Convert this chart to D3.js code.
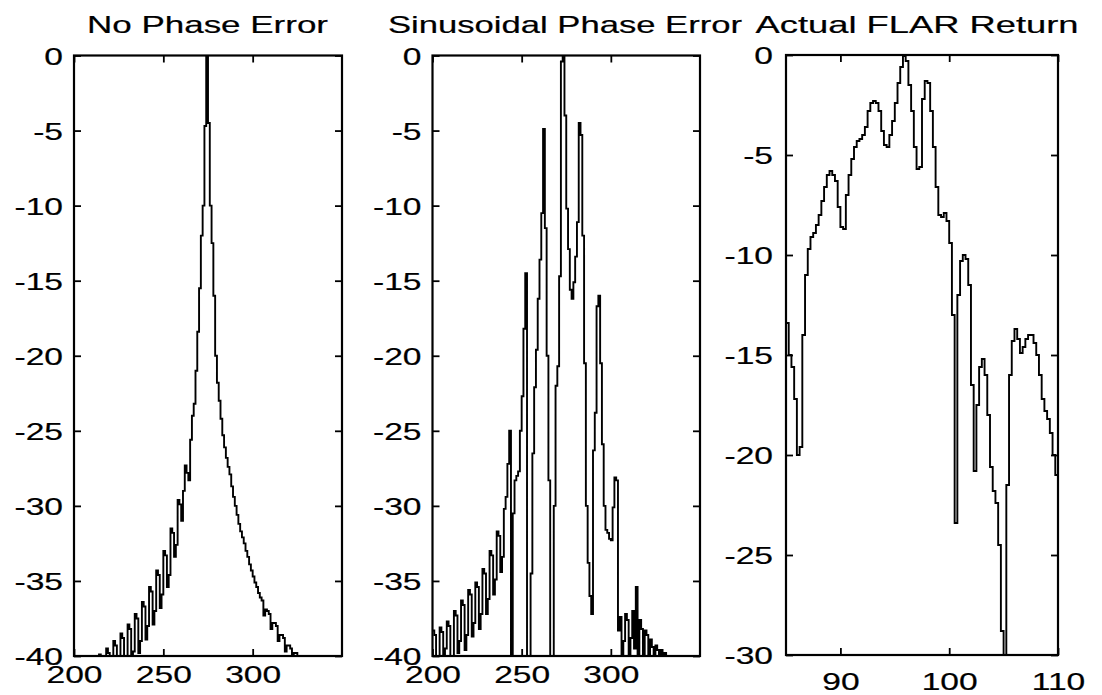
<!DOCTYPE html>
<html>
<head>
<meta charset="utf-8">
<script src="https://cdn.jsdelivr.net/npm/d3@7"></script>
<style>
  html, body { margin: 0; padding: 0; background: #fff; }
  svg { display: block; }
  text { font-family: "Liberation Sans", Arial, Helvetica, sans-serif; fill: #000; stroke: #000; stroke-width: 0.2px; }
</style>
</head>
<body>
<svg id="chart" width="1102" height="695"></svg>
<script>
"use strict";

// ---- data (dB) ----
var titles = ["No Phase Error", "Sinusoidal Phase Error", "Actual FLAR Return"];

// panel 1: one value per range bin, starting at bin 212
var noPhaseStart = 212;
var noPhaseDb = [
  -40, -40, -39.9, -40, -40, -40,
  -39.5, -39.8, -40, -40, -39.0, -39.3, -40, -40,
  -38.5, -38.8, -40, -40, -37.9, -38.2, -40, -39.7,
  -37.2, -37.5, -39.8, -39.0, -36.4, -36.7, -38.9, -38.0,
  -35.4, -35.7, -37.9, -37.0, -34.3, -34.6, -36.8, -35.9,
  -33.0, -33.3, -35.4, -34.6, -31.5, -31.8, -33.4, -32.6,
  -29.6, -29.9, -31.0, -29.0, -27.3, -27.8, -28.3, -25.6,
  -24.0, -23.2, -21.0, -18.4, -15.5, -12.0, -10.0, -4.7,
  0, -4.5, -10.0, -12.5, -16.0, -20.0, -21.8, -23.0,
  -24.2, -25.3, -26.1, -26.8, -27.4, -27.9, -28.7, -29.4,
  -30.0, -30.6, -31.2, -31.7, -32.1, -32.5, -33.0, -33.4,
  -33.9, -34.3, -34.7, -35.1, -35.4, -35.8,
  -36.1, -36.3, -37.3, -36.9, -37.0, -37.2, -38.2, -37.8,
  -37.8, -38.0, -39.0, -38.6, -38.6, -38.8, -39.7, -39.3,
  -39.3, -39.5, -40, -39.8, -39.8, -40, -40
];

// panel 2: one value per range bin, starting at bin 200
var sinPhaseStart = 200;
var sinPhaseDb = [
  -38.3, -38.6, -40, -40, -38.1, -38.4, -40, -39.5,
  -37.7, -38.0, -40, -40, -37.0, -37.3, -39.8, -39.0,
  -36.3, -36.6, -39.6, -38.6, -35.6, -35.9, -38.7, -37.8,
  -35.1, -35.4, -38.2, -37.2, -34.2, -34.5, -37.2, -36.2,
  -33.0, -33.3, -35.9, -34.9, -31.7, -32.0, -34.4, -33.4,
  -30.2, -29.4, -27.2, -25.0,
  -40, -30.5, -28.3, -28.0, -27.7, -25.0, -22.7, -18.2, -14.5, -40,
  -40, -34.5, -26.5, -22.1, -19.6, -16.2, -13.6, -10.5, -4.9, -11.5,
  -20.0, -28.3, -40, -40, -30.0, -22.0, -20.7, -14.7, -0.4, 0,
  -4.0, -10.2, -12.9, -15.6, -16.2, -15.1, -13.4, -11.1, -4.5, -5.3,
  -12.0, -20.5, -30.0, -33.8, -36.0, -37.2, -26.3, -23.8, -16.7, -16.0,
  -20.5, -25.9, -30.0, -31.6, -31.8, -32.2, -32.3, -30.1, -28.1, -28.3,
  -38.3, -37.4, -40, -39.0, -37.2, -37.6, -40, -38.8, -37.0, -39.5,
  -35.4, -40, -37.6, -38.2, -40, -38.3, -38.6, -40, -38.9, -39.4,
  -40, -39.3, -39.6, -40, -39.6, -40, -39.8, -40, -40, -40
];

// panel 3: samples every 0.25 from 85 to 110
var flarStart = 85;
var flarStep = 0.25;
var flarDb = [
  -13.4, -15.0, -15.6, -17.2, -20.0, -19.6, -14.0, -11.0, -9.7, -9.1,
  -8.9, -8.5, -8.0, -7.3, -6.6, -6.0, -5.8, -6.0, -6.3, -7.6,
  -8.6, -8.7, -7.0, -6.0, -5.2, -4.6, -4.3, -4.2, -4.0, -3.6,
  -2.8, -2.4, -2.3, -2.4, -2.8, -3.8, -4.5, -4.6, -4.0, -3.3,
  -2.4, -1.4, -0.6, -0.05, -0.3, -1.5, -2.8, -4.6, -5.7, -5.6,
  -2.2, -1.3, -1.4, -2.8, -4.6, -6.6, -8.0, -8.1, -7.9, -8.3,
  -9.4, -13.0, -23.4, -12.0, -10.3, -10.0, -10.2, -11.5, -16.5, -20.8,
  -17.5, -15.6, -15.2, -16.0, -18.0, -20.6, -21.8, -22.4, -24.5, -28.8,
  -30.0, -21.5, -16.0, -14.3, -13.7, -14.2, -14.9, -14.6, -14.2, -14.0,
  -14.0, -14.4, -15.0, -16.0, -17.2, -17.8, -18.2, -18.9, -20.0, -21.0, -22.6
];

var binTicks = [200, 250, 300];
var db40Ticks = [0, -5, -10, -15, -20, -25, -30, -35, -40];
var flarTicks = [90, 100, 110];
var db30Ticks = [0, -5, -10, -15, -20, -25, -30];

// ---- layout ----
var SX = 1.4;          // the scanned lettering is wide, stretch it
var FONT = 24;

function toPoints(start, step, values) {
  return values.map(function (v, i) {
    return { x: start + i * step, v: v };
  });
}

// plain hyphen minus like the original, not the unicode minus of d3.format
function fmt(d) {
  return String(d);
}

var aPanels = [
  { id: 1, left: 74, right: 342, top: 55.5, bottom: 656, xDomain: [200, 350], yDomain: [-40, 0],
    xTicks: binTicks, yTicks: db40Ticks,
    title: titles[0], titleX: 207.5, titleW: 241, xLabelY: 27, yGap: 11,
    data: toPoints(noPhaseStart, 1, noPhaseDb) },
  { id: 2, left: 432.5, right: 700, top: 55.5, bottom: 656, xDomain: [200, 350], yDomain: [-40, 0],
    xTicks: binTicks, yTicks: db40Ticks,
    title: titles[1], titleX: 565, titleW: 354, xLabelY: 27, yGap: 11,
    data: toPoints(sinPhaseStart, 1, sinPhaseDb) },
  { id: 3, left: 786, right: 1058, top: 55, bottom: 655, xDomain: [85, 110], yDomain: [-30, 0],
    xTicks: flarTicks, yTicks: db30Ticks,
    title: titles[2], titleX: 917, titleW: 323, xLabelY: 35, yGap: 13,
    data: toPoints(flarStart, flarStep, flarDb) }
];

var oSvg = d3.select("#chart");
oSvg.append("rect").attr("width", 1102).attr("height", 695).attr("fill", "#fff");

function styleTicks(gAxis) {
  gAxis.attr("font-size", FONT).attr("font-family", null);
  gAxis.select(".domain").remove();
  gAxis.selectAll(".tick line").attr("stroke", "#000").attr("stroke-width", 1.8);
}

function drawPanel(p) {
  var oX = d3.scaleLinear().domain(p.xDomain).range([p.left, p.right]);
  var oY = d3.scaleLinear().domain(p.yDomain).range([p.bottom, p.top]);
  var g = oSvg.append("g");

  g.append("clipPath").attr("id", "clip" + p.id)
    .append("rect")
    .attr("x", p.left).attr("y", p.top)
    .attr("width", p.right - p.left).attr("height", p.bottom - p.top);

  var oLine = d3.line()
    .x(function (d) { return oX(d.x); })
    .y(function (d) { return oY(Math.max(d.v, p.yDomain[0])); })
    .curve(d3.curveStepAfter);

  g.append("path")
    .datum(p.data)
    .attr("clip-path", "url(#clip" + p.id + ")")
    .attr("fill", "none")
    .attr("stroke", "#000")
    .attr("stroke-width", 1.9)
    .attr("d", oLine);

  // left axis with labels, ticks pointing in
  var gLeft = g.append("g")
    .attr("transform", "translate(" + p.left + ",0)")
    .call(d3.axisLeft(oY).tickValues(p.yTicks).tickFormat(fmt)
      .tickSizeInner(-7).tickSizeOuter(0).tickPadding(p.yGap));
  styleTicks(gLeft);
  gLeft.selectAll("text")
    .attr("x", -p.yGap / SX)
    .attr("dy", "0.36em")
    .attr("transform", "scale(" + SX + ",1)");

  // mirrored ticks on the right
  var gRight = g.append("g")
    .attr("transform", "translate(" + p.right + ",0)")
    .call(d3.axisRight(oY).tickValues(p.yTicks).tickFormat("").tickSizeInner(-7).tickSizeOuter(0));
  styleTicks(gRight);

  // bottom axis with labels
  var gBottom = g.append("g")
    .attr("transform", "translate(0," + p.bottom + ")")
    .call(d3.axisBottom(oX).tickValues(p.xTicks).tickFormat(fmt)
      .tickSizeInner(-7).tickSizeOuter(0));
  styleTicks(gBottom);
  gBottom.selectAll("text")
    .attr("y", p.xLabelY)
    .attr("dy", null)
    .attr("transform", "scale(" + SX + ",1)");

  // mirrored ticks on top
  var gTop = g.append("g")
    .attr("transform", "translate(0," + p.top + ")")
    .call(d3.axisTop(oX).tickValues(p.xTicks).tickFormat("").tickSizeInner(-7).tickSizeOuter(0));
  styleTicks(gTop);

  // box
  g.append("rect")
    .attr("x", p.left).attr("y", p.top)
    .attr("width", p.right - p.left).attr("height", p.bottom - p.top)
    .attr("fill", "none")
    .attr("stroke", "#000")
    .attr("stroke-width", 2.2);

  g.append("text")
    .attr("x", p.titleX)
    .attr("y", 33)
    .attr("text-anchor", "middle")
    .attr("font-size", FONT)
    .attr("textLength", p.titleW)
    .attr("lengthAdjust", "spacingAndGlyphs")
    .text(p.title);
}

aPanels.forEach(drawPanel);
</script>
</body>
</html>
